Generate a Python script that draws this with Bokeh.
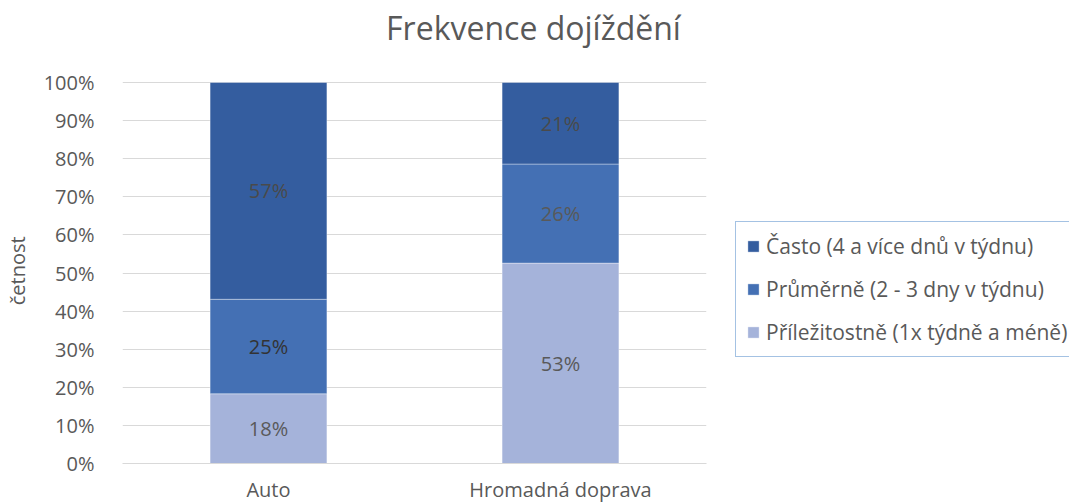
import numpy as np
from bokeh.plotting import figure
from bokeh.models import (ColumnDataSource, FactorRange, Range1d, Legend, LegendItem,
                          FixedTicker, PrintfTickFormatter, Label)
from bokeh.core.properties import value
from bokeh.embed import file_html
from bokeh.resources import INLINE

# ---- data ----
categories = ["Auto", "Hromadná doprava"]
series_names = ["Příležitostně (1x týdně a méně)", "Průměrně (2 - 3 dny v týdnu)", "Často (4 a více dnů v týdnu)"]
prilezitostne = [18.3, 52.6]
prumerne = [24.8, 26.0]
casto = [56.9, 21.4]
y_ticks = [0, 10, 20, 30, 40, 50, 60, 70, 80, 90, 100]
colors = ["#A5B3DA", "#4470B4", "#345D9F"]
title_text = "Frekvence dojíždění"
y_label = "četnost"

FONT = "Open Sans"
GRAY = "#595959"

# plot frame: axis 0..100 spans 381 px; extra room above holds the title
FRAME_H = 453
Y_TOP = 100 * FRAME_H / 381

keys = ["s0", "s1", "s2"]
source = ColumnDataSource(dict(x=categories, s0=prilezitostne, s1=prumerne, s2=casto))

p = figure(x_range=FactorRange(*categories, range_padding=0), y_range=Range1d(0, Y_TOP),
           frame_width=584, frame_height=FRAME_H, output_backend="svg", toolbar_location=None,
           min_border_left=120, min_border_right=365, min_border_top=10, min_border_bottom=36)
p.outline_line_color = None

renderers = p.vbar_stack(keys, x="x", width=0.4, source=source, color=colors,
                         line_color="white", line_width=0.6, line_alpha=0.6)

# data labels
vals = np.array([prilezitostne, prumerne, casto])
cum = np.cumsum(vals, axis=0)
centers = cum - vals / 2
lab_x, lab_y, lab_t, lab_c = [], [], [], []
lab_colors = [[GRAY, GRAY], ["#333333", GRAY], ["#4A4A4A", "#4A4A4A"]]
for i in range(3):
    for j, c in enumerate(categories):
        lab_x.append(c)
        lab_y.append(centers[i, j])
        lab_t.append(f"{int(np.floor(vals[i, j] + 0.5)):d}%")
        lab_c.append(lab_colors[i][j])
lsrc = ColumnDataSource(dict(x=lab_x, y=lab_y, t=lab_t, c=lab_c))
p.text(x="x", y="y", text="t", source=lsrc, text_color="c", text_align="center",
       text_baseline="middle", text_font=value(FONT), text_font_size="20px")

# axes
p.yaxis.ticker = FixedTicker(ticks=y_ticks)
p.yaxis.formatter = PrintfTickFormatter(format="%d%%")
p.yaxis.axis_line_color = None
p.yaxis.major_tick_line_color = None
p.yaxis.minor_tick_line_color = None
p.yaxis.major_label_standoff = 22
p.yaxis.major_label_text_font = FONT
p.yaxis.major_label_text_font_size = "20px"
p.yaxis.major_label_text_color = GRAY
# trailing no-break spaces shift the centred label down to the middle of the 0-100 % span
p.yaxis.axis_label = y_label + "\u00a0" * 13
p.yaxis.axis_label_text_font = FONT
p.yaxis.axis_label_text_font_size = "20px"
p.yaxis.axis_label_text_font_style = "normal"
p.yaxis.axis_label_text_color = GRAY
p.yaxis.axis_label_standoff = 10

p.xaxis.axis_line_color = "#D9D9D9"
p.xaxis.major_tick_line_color = None
p.xaxis.minor_tick_line_color = None
p.xaxis.major_label_standoff = 6
p.xaxis.major_label_text_font = FONT
p.xaxis.major_label_text_font_size = "20px"
p.xaxis.major_label_text_color = GRAY

p.xgrid.grid_line_color = None
p.ygrid.grid_line_color = "#D9D9D9"
p.ygrid.grid_line_width = 1

# legend
items = [LegendItem(label=series_names[i], renderers=[renderers[i]]) for i in [2, 1, 0]]
legend = Legend(items=items, location=(29, 106), orientation="vertical",
                border_line_color="#4A86C8", border_line_width=1,
                background_fill_color="white", margin=0, padding=10,
                glyph_width=14, glyph_height=14, label_height=24, spacing=15,
                label_standoff=6, label_text_font=FONT, label_text_font_size="21px",
                label_text_color=GRAY)
p.add_layout(legend, "right")

# title
p.add_layout(Label(x=411, y=436, x_units="screen", y_units="screen", text=title_text,
                   text_align="center", text_baseline="alphabetic", text_font=FONT,
                   text_font_size="32px", text_color=GRAY))

open("out.html", "w").write(file_html(p, INLINE))
